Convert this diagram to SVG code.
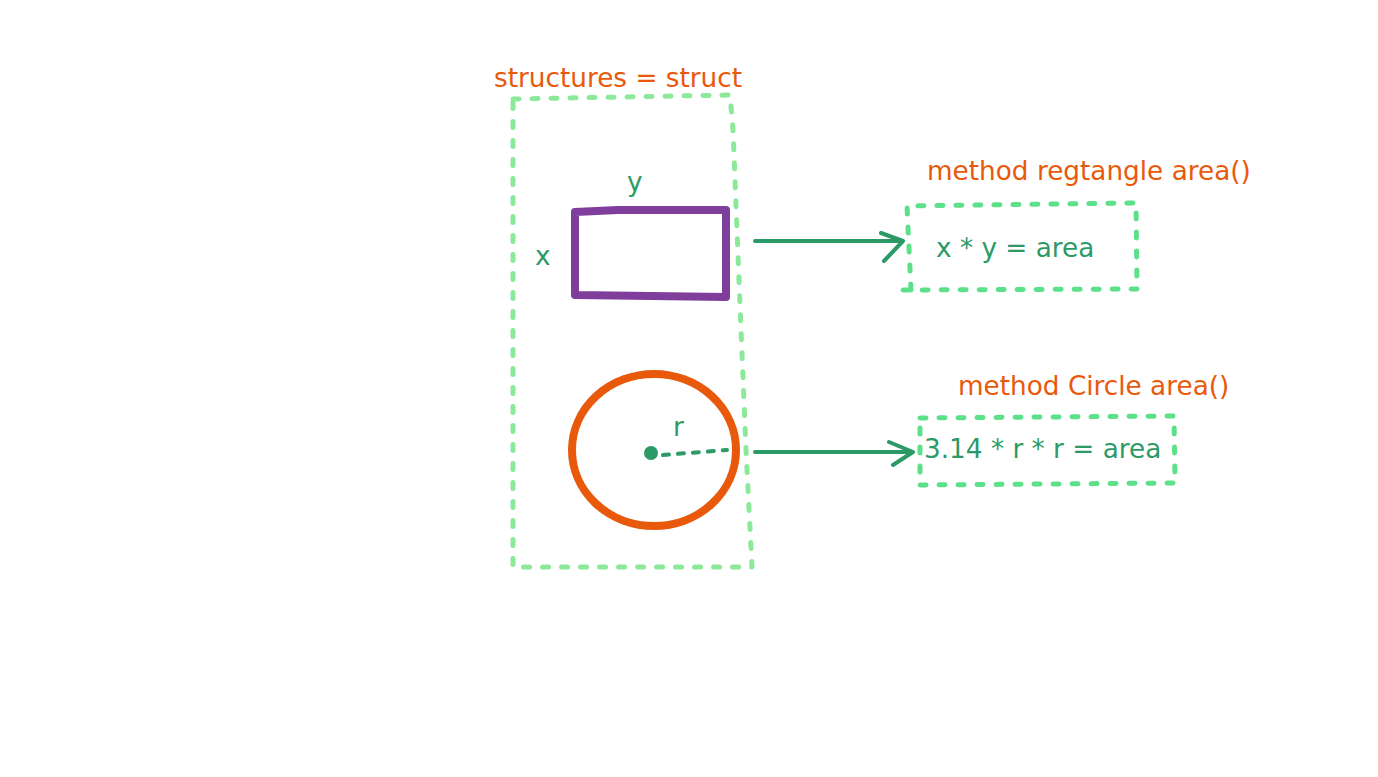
<svg xmlns="http://www.w3.org/2000/svg" width="1378" height="777" viewBox="0 0 1378 777">
<style>
text{font-family:"DejaVu Sans",sans-serif;font-size:26.3px}
.o{fill:#e8590c}
.g{fill:#2b9a66}
.dash{fill:none;stroke-linecap:round;stroke-linejoin:round;stroke-width:5;stroke-dasharray:6 13}
.conn{fill:none;stroke:#2b9a66;stroke-width:4;stroke-linecap:round;stroke-linejoin:round}
</style>
<rect width="1378" height="777" fill="#fff"/>
<g id="struct">
<path class="dash" stroke="#8ce99a" d="M513 99 L730 95 L733 130 L741 330 L746 450 L752 567 L513 567 Z"/>
<text class="o" x="494" y="87">structures = struct</text>
</g>
<g id="rectangle">
<path d="M575 212 L618 210 L726 210 L726 297 L575 295 Z" fill="none" stroke="#803e9c" stroke-width="8" stroke-linejoin="round"/>
<text class="g" x="627" y="191">y</text>
<text class="g" x="535" y="265">x</text>
</g>
<g id="circle">
<ellipse cx="654" cy="450" rx="82" ry="76" fill="none" stroke="#e8590c" stroke-width="8"/>
<circle cx="651" cy="453" r="7" fill="#2b9a66"/>
<path d="M663 455 L727 450" fill="none" stroke="#2b9a66" stroke-width="4" stroke-linecap="round" stroke-dasharray="6 9"/>
<text class="g" x="673" y="436">r</text>
</g>
<g id="rect-method">
<path class="dash" stroke="#5de08a" d="M911 290 L907 206 L1136 203 L1137 289 L902 290"/>
<text class="o" x="927" y="180">method regtangle area()</text>
<text class="g" x="936" y="257">x * y = area</text>
</g>
<g id="circle-method">
<path class="dash" stroke="#5de08a" d="M920 418 L1174 416 L1175 483 L920 485 Z"/>
<text class="o" x="958" y="395">method Circle area()</text>
<text class="g" x="924" y="458">3.14 * r * r = area</text>
</g>
<g id="connectors">
<path class="conn" d="M755 241 L903 241 M881 233 L903 241 L884 261"/>
<path class="conn" d="M755 452 L913 452 M889 442 L913 452 L893 465"/>
</g>
</svg>
